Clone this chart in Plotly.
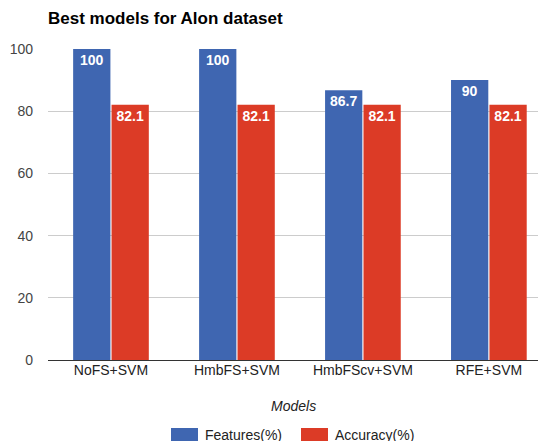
import plotly.graph_objects as go

models = ["NoFS+SVM", "HmbFS+SVM", "HmbFScv+SVM", "RFE+SVM"]
series_names = ["Features(%)", "Accuracy(%)"]
features_pct = [100, 100, 86.7, 90]
accuracy_pct = [82.1, 82.1, 82.1, 82.1]
y_ticks = [0, 20, 40, 60, 80, 100]
colors = ["#3f66b1", "#dc3b26"]

W, H = 538, 441
L, R, T, B = 48, 0, 49, 81
PW, PH = W - L - R, H - T - B
FONT = "Liberation Sans, Arial"

fig = go.Figure()
for name, vals, col in zip(series_names, [features_pct, accuracy_pct], colors):
    fig.add_trace(go.Bar(
        x=models, y=vals, name=name,
        marker=dict(color=col, line=dict(width=0)),
        text=[f"{v:g}" for v in vals], textposition="inside",
        insidetextanchor="end", constraintext="none",
        textfont=dict(family=FONT, size=14, color="white", weight="bold"),
        showlegend=False, hoverinfo="x+y+name",
    ))

# custom legend (wide swatches like the reference)
def px_x(px):
    return (px - L) / PW

def px_y(py):
    return (H - B - py) / PH

shapes, annotations = [], []
legend_items = [(171, 198, 203), (301, 328, 333)]
for (x0, x1, tx), name, col in zip(legend_items, series_names, colors):
    shapes.append(dict(type="rect", xref="paper", yref="paper",
                       x0=px_x(x0), x1=px_x(x1), y0=px_y(441), y1=px_y(428),
                       fillcolor=col, line=dict(width=0)))
    annotations.append(dict(text=name, x=px_x(tx), xref="paper", xanchor="left",
                            y=px_y(435), yref="paper", yanchor="middle", showarrow=False,
                            font=dict(size=14, color="#222")))

annotations.append(dict(text="<i>Models</i>", x=0.5, xref="paper", xanchor="center",
                        y=px_y(406), yref="paper", yanchor="middle", showarrow=False,
                        font=dict(size=14, color="#222")))

fig.update_layout(
    width=W, height=H,
    margin=dict(l=L, r=R, t=T, b=B, autoexpand=False),
    paper_bgcolor="white", plot_bgcolor="white",
    font=dict(family=FONT, size=14, color="#444"),
    title=dict(text="<b>Best models for Alon dataset</b>", x=0, xref="paper", xanchor="left",
               y=1 - 18 / H, yanchor="middle", yref="container",
               font=dict(size=17, color="#000")),
    barmode="group", bargap=0.39, bargroupgap=0.03,
    xaxis=dict(range=[-0.5, 3.39], showgrid=False, showline=False, ticks="",
               automargin=False, tickfont=dict(size=14, color="#222")),
    yaxis=dict(range=[0, 100], tickvals=y_ticks, showgrid=True, gridcolor="#cccccc",
               zeroline=True, zerolinecolor="#333333", zerolinewidth=1, automargin=False,
               ticks="", ticklabelstandoff=14, tickfont=dict(size=14, color="#444")),
    showlegend=False,
    shapes=shapes,
    annotations=annotations,
)

fig.write_html("out.html", config={"displayModeBar": False},
               post_script="document.body.style.margin='0';document.body.style.overflow='hidden';")
